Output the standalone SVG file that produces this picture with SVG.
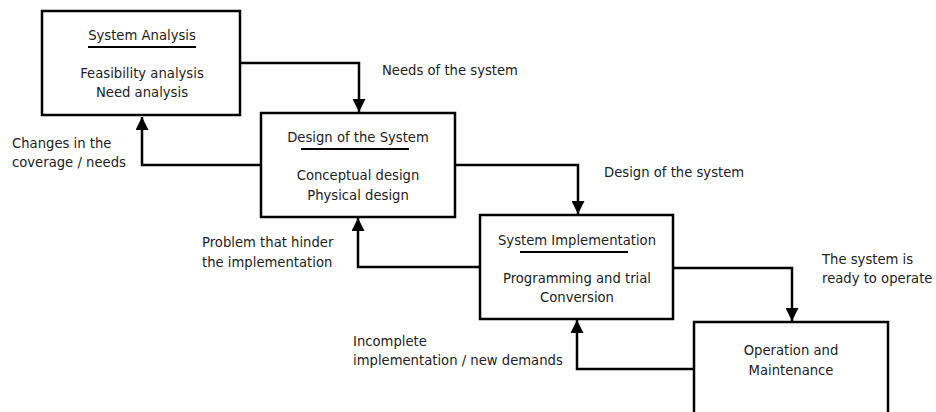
<svg xmlns="http://www.w3.org/2000/svg" width="936" height="412" viewBox="0 0 936 412">
<defs>
<marker id="ah" viewBox="0 0 10 10" refX="10" refY="5" markerWidth="5.2" markerHeight="5.2" markerUnits="strokeWidth" orient="auto">
<path d="M0,0 L10,5 L0,10 Z" fill="#000"/>
</marker>
</defs>
<style>
.box{fill:#fff;stroke:#000;stroke-width:2.5}
.ln{fill:none;stroke:#000;stroke-width:2.5;marker-end:url(#ah)}
.ul{stroke:#000;stroke-width:2}
text{font-family:"DejaVu Sans","Liberation Sans",sans-serif;font-size:13.2px;fill:#222}
.c{text-anchor:middle}
</style>
<rect width="936" height="412" fill="#fff"/>
<g id="connectors">
<path class="ln" d="M240,63 H359 V112"/>
<path class="ln" d="M261,165 H142 V117"/>
<path class="ln" d="M455,165 H578 V214"/>
<path class="ln" d="M480,267 H358 V218"/>
<path class="ln" d="M673,268 H792 V321"/>
<path class="ln" d="M694,369 H577 V320"/>
</g>
<g id="system-analysis">
<rect class="box" x="42" y="11" width="198" height="104"/>
<text class="c" x="142" y="40">System Analysis</text>
<line class="ul" x1="88" y1="47" x2="196" y2="47"/>
<text class="c" x="142" y="78">Feasibility analysis</text>
<text class="c" x="142" y="97">Need analysis</text>
</g>
<g id="design">
<rect class="box" x="261" y="113" width="194" height="104"/>
<text class="c" x="358" y="142">Design of the System</text>
<line class="ul" x1="301" y1="149" x2="409" y2="149"/>
<text class="c" x="358" y="180">Conceptual design</text>
<text class="c" x="358" y="200">Physical design</text>
</g>
<g id="implementation">
<rect class="box" x="480" y="215" width="193" height="104"/>
<text class="c" x="577" y="245">System Implementation</text>
<line class="ul" x1="520" y1="252" x2="628" y2="252"/>
<text class="c" x="577" y="283">Programming and trial</text>
<text class="c" x="577" y="302">Conversion</text>
</g>
<g id="operation">
<rect class="box" x="694" y="322" width="194" height="110"/>
<text class="c" x="791" y="355">Operation and</text>
<text class="c" x="791" y="375">Maintenance</text>
</g>
<g id="labels">
<text x="382" y="75">Needs of the system</text>
<text x="12" y="148">Changes in the</text>
<text x="12" y="167">coverage / needs</text>
<text x="604" y="177">Design of the system</text>
<text x="202" y="247">Problem that hinder</text>
<text x="202" y="267">the implementation</text>
<text x="822" y="264">The system is</text>
<text x="822" y="283">ready to operate</text>
<text x="353" y="346">Incomplete</text>
<text x="353" y="365">implementation / new demands</text>
</g>
</svg>
